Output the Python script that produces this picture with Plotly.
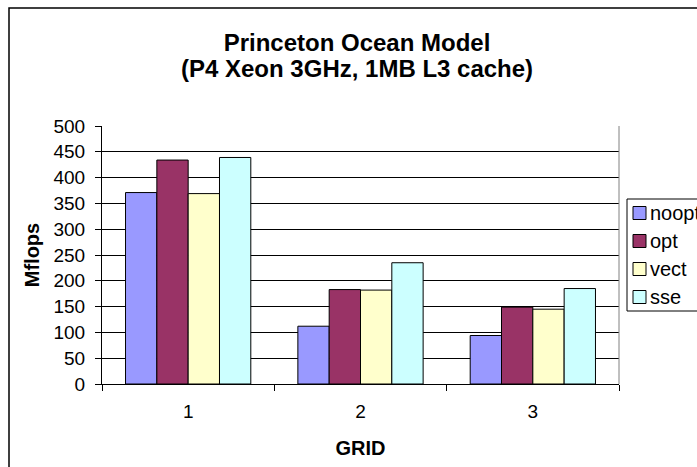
import plotly.graph_objects as go

categories = ["1", "2", "3"]
series_names = ["noopt", "opt", "vect", "sse"]
noopt = [371, 112, 94]
opt = [434, 183, 149]
vect = [369, 182, 145]
sse = [439, 235, 185]
colors = ["#9999FF", "#993366", "#FFFFCC", "#CCFFFF"]
y_ticks = [0, 50, 100, 150, 200, 250, 300, 350, 400, 450, 500]
title_lines = ["Princeton Ocean Model", "(P4 Xeon 3GHz, 1MB L3 cache)"]

W, H = 697, 467
L, R, T, B = 102, 619, 126, 384
font_family = "Liberation Sans, Arial, sans-serif"


def px(x):
    return (x - L) / (R - L)


def py(y):
    return (B - y) / (B - T)


fig = go.Figure()
for name, vals, col in zip(series_names, [noopt, opt, vect, sse], colors):
    fig.add_trace(go.Bar(
        name=name, x=categories, y=vals,
        marker=dict(color=col, line=dict(color="black", width=1)),
        showlegend=False,
    ))

fig.update_layout(
    width=W, height=H,
    margin=dict(l=L, r=W - R, t=T, b=H - B, autoexpand=False),
    paper_bgcolor="white", plot_bgcolor="white",
    barmode="group", bargap=0.273, bargroupgap=0,
    font=dict(family=font_family, size=19, color="black"),
    title=dict(
        text="<b>" + title_lines[0] + "</b>",
        x=357 / W, xanchor="center", xref="container",
        y=1 - 43 / H, yanchor="middle", yref="container",
        font=dict(size=24, family=font_family, color="black"),
    ),
    showlegend=False,
)

# second title line
fig.add_annotation(
    text="<b>" + title_lines[1] + "</b>", xref="paper", yref="paper",
    x=px(357), y=py(68), xanchor="center", yanchor="middle", showarrow=False,
    font=dict(size=24, family=font_family, color="black"),
)

fig.update_xaxes(
    type="category", tickson="boundaries",
    ticks="outside", ticklen=6, tickcolor="black", tickwidth=1,
    showline=True, linecolor="black", linewidth=1,
    showgrid=False, mirror=False,
    ticklabelstandoff=10,
    title=dict(text="<b>GRID</b>", font=dict(size=20), standoff=20),
)
fig.update_yaxes(
    range=[0, 500], tickvals=y_ticks, ticktext=[str(v) for v in y_ticks],
    ticks="outside", ticklen=6, tickcolor="black", tickwidth=1,
    showline=True, linecolor="black", linewidth=1,
    showgrid=True, gridcolor="black", gridwidth=1,
    zeroline=False,
    ticklabelstandoff=6,
    title=dict(text="<b>Mflops</b>", font=dict(size=20), standoff=8),
)

# plot-area right border (gray)
fig.add_shape(type="line", xref="paper", yref="paper", x0=1, x1=1, y0=0, y1=1,
              line=dict(color="#808080", width=1))
# outer chart border (left & top visible)
fig.add_shape(type="rect", xref="paper", yref="paper",
              x0=px(9), x1=px(W + 20), y0=py(H + 20), y1=py(8),
              line=dict(color="black", width=1.5), fillcolor="rgba(0,0,0,0)",
              layer="below")

# legend box
leg_top, leg_bot, leg_left = 199, 311, 627
fig.add_shape(type="rect", xref="paper", yref="paper",
              x0=px(leg_left), x1=px(W + 20), y0=py(leg_bot), y1=py(leg_top),
              line=dict(color="black", width=1), fillcolor="white")
step = (leg_bot - leg_top) / len(series_names)
for i, (name, col) in enumerate(zip(series_names, colors)):
    cy = leg_top + step * (i + 0.5)
    fig.add_shape(type="rect", xref="paper", yref="paper",
                  x0=px(633), x1=px(646), y0=py(cy + 6.5), y1=py(cy - 6.5),
                  line=dict(color="black", width=1), fillcolor=col)
    fig.add_annotation(text=name, xref="paper", yref="paper",
                       x=px(648), y=py(cy), xanchor="left", yanchor="middle",
                       showarrow=False,
                       font=dict(size=20, family=font_family, color="black"))

fig.write_html("out.html")
